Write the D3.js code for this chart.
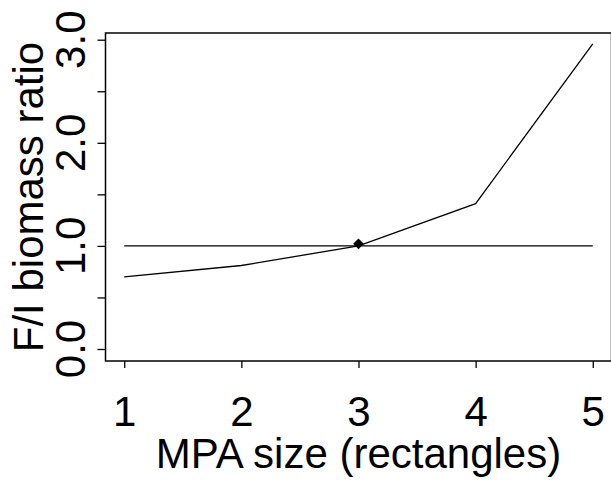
<!DOCTYPE html>
<html>
<head>
<meta charset="utf-8">
<script src="https://cdn.jsdelivr.net/npm/d3@7"></script>
<style>
body { margin: 0; background: #fff; }
text { font-family: "Liberation Sans", Arial, sans-serif; fill: #000; }
</style>
</head>
<body>
<div class="chart"></div>
<script>
// data
const mpaSize = [1, 2, 3, 4, 5];
const biomassRatio = [0.70, 0.81, 1.00, 1.41, 2.96];
const refLevel = 1.0;
const markX = [3];
const markY = [1.02];
const xTicks = [1, 2, 3, 4, 5];
const yTicks = [0, 0.5, 1, 1.5, 2, 2.5, 3];
const yLabels = [0, 1, 2, 3];

const w = 611;
const h = 483;
const fs = 42;

const svg = d3.select('.chart')
    .append('svg')
    .attr('width', w)
    .attr('height', h);

// R style plot region, x padded 4% each side
const x = d3.scaleLinear().domain([0.84, 5.16]).range([105.5, 611.5]);
const y = d3.scaleLinear().domain([0, 3]).range([349, 39.7]);
const boxTop = 33, boxBottom = 361;

// box
svg.append('rect')
    .attr('x', x(0.84))
    .attr('y', boxTop)
    .attr('width', x(5.16) - x(0.84))
    .attr('height', boxBottom - boxTop)
    .attr('fill', 'none')
    .attr('stroke', '#000')
    .attr('stroke-width', 1.5);

// x axis
const xAxis = svg.append('g')
    .attr('transform', `translate(0,${boxBottom})`)
    .call(d3.axisBottom(x).tickValues(xTicks).tickSize(7).tickFormat(d3.format('d')));
xAxis.select('.domain').remove();
xAxis.selectAll('line').attr('stroke', '#000').attr('stroke-width', 1.3);
xAxis.selectAll('text')
    .attr('font-size', fs)
    .attr('font-family', '"Liberation Sans", Arial, sans-serif')
    .attr('dy', null)
    .attr('y', 65);

// y axis ticks
const yAxis = svg.append('g')
    .attr('transform', `translate(${x(0.84)},0)`)
    .call(d3.axisLeft(y).tickValues(yTicks).tickSize(8).tickFormat(''));
yAxis.select('.domain').remove();
yAxis.selectAll('line').attr('stroke', '#000').attr('stroke-width', 1.3);

svg.selectAll('text.ylab')
    .data(yLabels)
    .enter()
    .append('text')
    .attr('class', 'ylab')
    .attr('transform', d => `translate(85,${y(d)}) rotate(-90)`)
    .attr('text-anchor', 'middle')
    .attr('font-size', fs)
    .text(d => d3.format('.1f')(d));

// axis titles
svg.append('text')
    .attr('x', x(3))
    .attr('y', 468)
    .attr('text-anchor', 'middle')
    .attr('font-size', fs)
    .text('MPA size (rectangles)');

svg.append('text')
    .attr('transform', `translate(43,${(boxTop + boxBottom) / 2}) rotate(-90)`)
    .attr('text-anchor', 'middle')
    .attr('font-size', fs)
    .text('F/I biomass ratio');

// reference line at 1
svg.append('line')
    .attr('x1', x(mpaSize[0]))
    .attr('x2', x(mpaSize[mpaSize.length - 1]))
    .attr('y1', y(refLevel))
    .attr('y2', y(refLevel))
    .attr('stroke', '#000')
    .attr('stroke-width', 1.2);

// ratio line
const line = d3.line()
    .x((d, i) => x(mpaSize[i]))
    .y(d => y(d));

svg.append('path')
    .datum(biomassRatio)
    .attr('d', line)
    .attr('fill', 'none')
    .attr('stroke', '#000')
    .attr('stroke-width', 1.3);

// diamond marker
svg.selectAll('path.mark')
    .data(markX)
    .enter()
    .append('path')
    .attr('class', 'mark')
    .attr('d', d3.symbol(d3.symbolDiamond2, 72))
    .attr('transform', (d, i) => `translate(${x(d)},${y(markY[i])})`)
    .attr('fill', '#000');
</script>
</body>
</html>
